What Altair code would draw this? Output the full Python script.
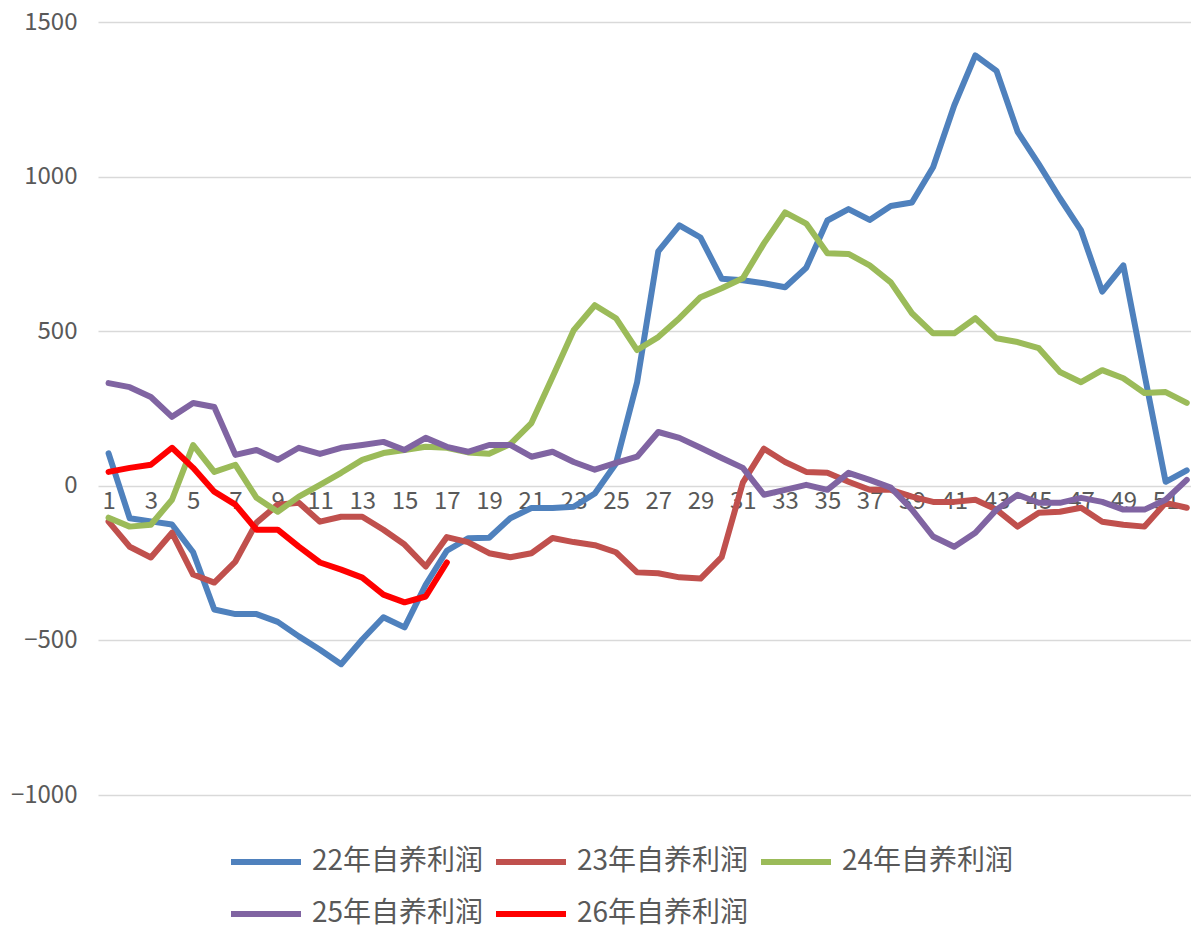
import altair as alt
import pandas as pd

# weekly profit per year (weeks 1..52)
weeks = list(range(1, 53))

profit_22 = [105, -105, -115, -125, -215, -400, -415, -415, -440, -487,
             -530, -577, -497, -425, -458, -320, -210, -170, -168, -105,
             -72, -72, -68, -25, 72, 335, 758, 842, 803, 670,
             665, 655, 642, 705, 858, 895, 860, 905, 916, 1030,
             1230, 1392, 1342, 1145, 1040, 930, 826, 628, 713, 360,
             13, 50]
profit_23 = [-116, -197, -232, -152, -287, -313, -245, -119, -61, -55,
             -116, -100, -100, -142, -190, -261, -166, -182, -218, -231,
             -218, -169, -182, -192, -215, -280, -283, -296, -300, -231,
             10, 120, 77, 45, 42, 13, -13, -13, -35, -52,
             -52, -45, -77, -132, -87, -84, -71, -116, -126, -132,
             -55, -71]
profit_24 = [-103, -132, -126, -45, 132, 45, 68, -39, -84, -35,
             3, 42, 84, 106, 116, 126, 123, 108, 104, 135,
             203, 352, 503, 584, 542, 439, 481, 542, 610, 639,
             671, 784, 884, 848, 752, 750, 713, 658, 558, 493,
             493, 542, 477, 465, 445, 368, 335, 374, 348, 300,
             303, 268]
profit_25 = [332, 319, 287, 223, 268, 255, 100, 116, 84, 123,
             103, 123, 132, 142, 116, 155, 126, 110, 132, 132,
             94, 110, 77, 52, 74, 94, 174, 155, 123, 90,
             58, -29, -13, 3, -13, 42, 19, -6, -77, -164,
             -197, -152, -77, -29, -55, -55, -39, -52, -77, -77,
             -45, 19]
profit_26 = [45, 58, 68, 123, 58, -19, -61, -142, -142, -197,
             -248, -271, -297, -352, -377, -358, -248]

series_names = ["22年自养利润", "23年自养利润", "24年自养利润", "25年自养利润", "26年自养利润"]
series_values = [profit_22, profit_23, profit_24, profit_25, profit_26]
colors = ["#4f81bd", "#c0504d", "#9bbb59", "#8064a2", "#ff0000"]
widths = [6, 6, 6, 6, 10]

rows = []
for name, vals in zip(series_names, series_values):
    for w, v in zip(weeks, vals):
        rows.append({"week": w, "profit": v, "series": name})
df = pd.DataFrame(rows)

font = "Noto Sans CJK SC"
gray = "#595959"

chart = alt.Chart(df).mark_line(strokeCap="round", strokeJoin="round").encode(
    x=alt.X("week:Q",
            scale=alt.Scale(domain=[0.5, 52.2], nice=False, zero=False),
            axis=alt.Axis(values=list(range(1, 52, 2)), offset=-309, domain=False,
                          ticks=False, grid=False, title=None, labelFontSize=24,
                          labelColor=gray, labelFont=font, labelPadding=3,
                          labelOverlap=False, labelFlush=False)),
    y=alt.Y("profit:Q",
            scale=alt.Scale(domain=[-1000, 1500], nice=False),
            axis=alt.Axis(values=[-1000, -500, 0, 500, 1000, 1500], format="d",
                          domain=False, ticks=False, title=None, labelFontSize=24,
                          labelColor=gray, labelFont=font, labelPadding=21,
                          gridColor="#d9d9d9", gridWidth=1.5)),
    color=alt.Color("series:N", scale=alt.Scale(domain=series_names, range=colors),
                    title=None),
    strokeWidth=alt.StrokeWidth("series:N",
                                scale=alt.Scale(domain=series_names, range=widths),
                                title=None),
    detail="series:N",
).properties(
    width=1093,
    height=773,
    autosize=alt.AutoSizeParams(type="none"),
    padding={"left": 90, "top": 14, "right": 0, "bottom": 130},
).configure_view(
    stroke=None
).configure_legend(
    orient="none",
    direction="horizontal",
    legendX=130,
    legendY=802,
    columns=3,
    symbolType="stroke",
    symbolSize=4900,
    labelFont=font,
    labelFontSize=28,
    labelColor=gray,
    labelOffset=8,
    columnPadding=0,
    rowPadding=0,
    labelLimit=400,
)

chart.save("out.html", embed_options={"renderer": "svg", "actions": False})
